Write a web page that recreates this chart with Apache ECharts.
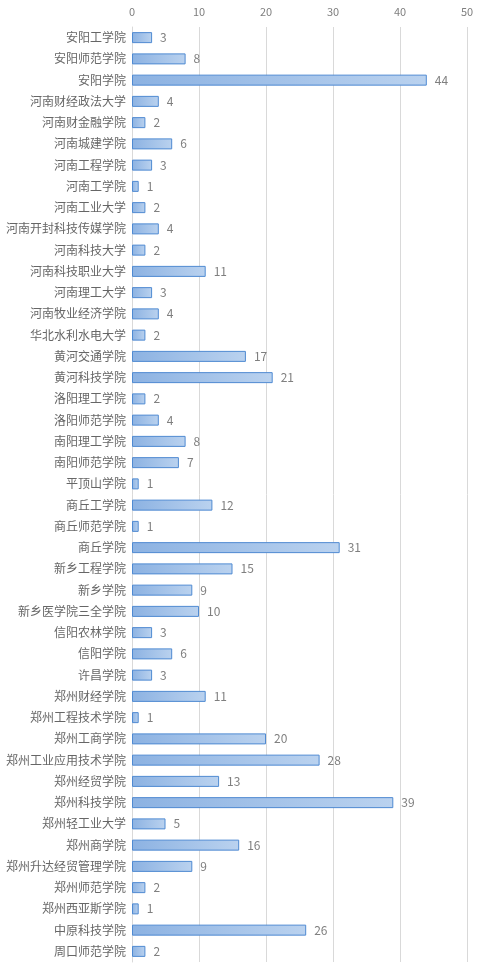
<!DOCTYPE html>
<html>
<head>
<meta charset="utf-8">
<script src="https://cdn.jsdelivr.net/npm/echarts@6/dist/echarts.min.js"></script>
<style>
  html, body { margin: 0; padding: 0; background: #fff; }
  #chart { width: 478px; height: 965px; }
</style>
</head>
<body>
<div id="chart"></div>
<script>
// 学校名称
var schools = [
  '安阳工学院', '安阳师范学院', '安阳学院', '河南财经政法大学', '河南财金融学院',
  '河南城建学院', '河南工程学院', '河南工学院', '河南工业大学', '河南开封科技传媒学院',
  '河南科技大学', '河南科技职业大学', '河南理工大学', '河南牧业经济学院', '华北水利水电大学',
  '黄河交通学院', '黄河科技学院', '洛阳理工学院', '洛阳师范学院', '南阳理工学院',
  '南阳师范学院', '平顶山学院', '商丘工学院', '商丘师范学院', '商丘学院',
  '新乡工程学院', '新乡学院', '新乡医学院三全学院', '信阳农林学院', '信阳学院',
  '许昌学院', '郑州财经学院', '郑州工程技术学院', '郑州工商学院', '郑州工业应用技术学院',
  '郑州经贸学院', '郑州科技学院', '郑州轻工业大学', '郑州商学院', '郑州升达经贸管理学院',
  '郑州师范学院', '郑州西亚斯学院', '中原科技学院', '周口师范学院'
];
// 数量
var counts = [
  3, 8, 44, 4, 2,
  6, 3, 1, 2, 4,
  2, 11, 3, 4, 2,
  17, 21, 2, 4, 8,
  7, 1, 12, 1, 31,
  15, 9, 10, 3, 6,
  3, 11, 1, 20, 28,
  13, 39, 5, 16, 9,
  2, 1, 26, 2
];
// 刻度
var xTicks = [0, 10, 20, 30, 40, 50];

var chart = echarts.init(document.getElementById('chart'));

var option = {
  animation: false,
  textStyle: {
    fontFamily: '"Noto Sans CJK SC", "Noto Sans", sans-serif'
  },
  grid: {
    left: 132,
    right: 11,
    top: 27,
    bottom: 3,
    containLabel: false
  },
  xAxis: {
    type: 'value',
    position: 'top',
    min: xTicks[0],
    max: xTicks[xTicks.length - 1],
    interval: 10,
    axisLine: { show: false },
    axisTick: { show: false },
    axisLabel: {
      color: '#7f7f7f',
      fontSize: 11,
      margin: 10
    },
    splitLine: {
      lineStyle: { color: '#d9d9d9', width: 1 }
    }
  },
  yAxis: {
    type: 'category',
    inverse: true,
    data: schools,
    axisLine: {
      show: true,
      lineStyle: { color: '#d9d9d9' }
    },
    axisTick: { show: false },
    axisLabel: {
      color: '#666666',
      fontSize: 12,
      margin: 6
    }
  },
  series: [{
    type: 'bar',
    data: counts,
    barWidth: 11,
    itemStyle: {
      color: new echarts.graphic.LinearGradient(0, 0, 1, 0, [
        { offset: 0, color: '#8cb2e2' },
        { offset: 1, color: '#bad2ef' }
      ]),
      borderColor: '#4f8ad2',
      borderWidth: 1
    },
    label: {
      show: true,
      position: 'right',
      distance: 8,
      color: '#7f7f7f',
      fontSize: 12
    }
  }]
};

chart.setOption(option);
</script>
</body>
</html>
